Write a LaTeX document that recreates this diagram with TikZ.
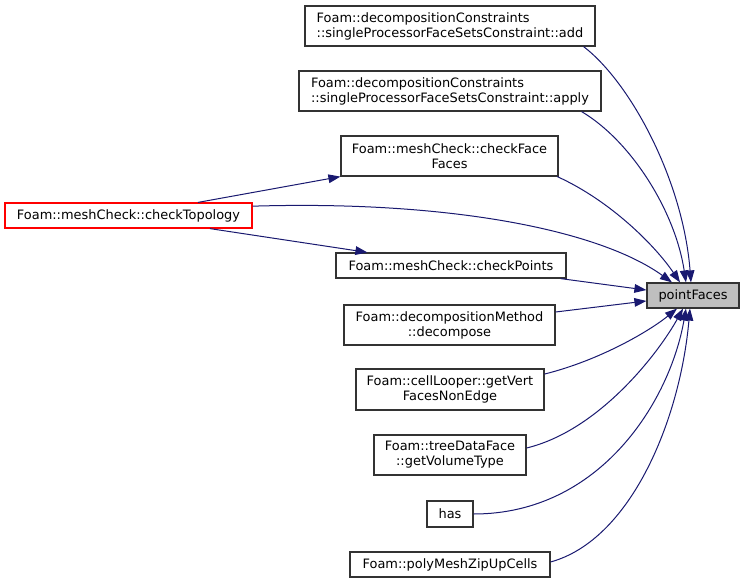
\documentclass[tikz,border=0pt]{standalone}
\usepackage{fontspec}
\setmainfont{DejaVu Sans}
\usetikzlibrary{arrows.meta}
\definecolor{edgeblue}{HTML}{191970}
\definecolor{boxgray}{HTML}{BFBFBF}
\tikzset{
  box/.style={draw=black!80, line width=0.9pt, inner sep=0pt, fill=white,
    font=\fontsize{9.7pt}{11.25pt}\selectfont, align=center},
  boxl/.style={box, align=left},
  edge/.style={draw=edgeblue, line width=0.75pt, -{Triangle[length=9pt,width=6.5pt]}, fill=none}
}
\begin{document}
\begin{tikzpicture}[x=0.75pt, y=-0.75pt]
\useasboundingbox (0,0) rectangle (744,583);
\fill[white] (0,0) rectangle (744,583);
% nodes
\node[boxl, minimum width=217.5pt, minimum height=30pt] (add) at (450,26)
  {Foam::decompositionConstraints\\::singleProcessorFaceSetsConstraint::add};
\node[boxl, minimum width=226.5pt, minimum height=30pt] (apply) at (450,91)
  {Foam::decompositionConstraints\\::singleProcessorFaceSetsConstraint::apply};
\node[box, minimum width=162.75pt, minimum height=30pt] (cff) at (449.5,156)
  {Foam::meshCheck::checkFace\\Faces};
\node[box, draw=red, minimum width=185.25pt, minimum height=18.75pt] (ct) at (128.5,215.5)
  {Foam::meshCheck::checkTopology};
\node[box, minimum width=172.5pt, minimum height=18.75pt] (cp) at (451,265.5)
  {Foam::meshCheck::checkPoints};
\node[box, fill=boxgray, draw=black!80, minimum width=69pt, minimum height=18.75pt] (pf) at (693,295.5)
  {pointFaces};
\node[box, minimum width=158.25pt, minimum height=30pt] (dec) at (449.5,325)
  {Foam::decompositionMethod\\::decompose};
\node[box, minimum width=141pt, minimum height=30.75pt] (gv) at (450,389.5)
  {Foam::cellLooper::getVert\\FacesNonEdge};
\node[box, minimum width=114pt, minimum height=30pt] (vt) at (450,455)
  {Foam::treeDataFace\\::getVolumeType};
\node[box, minimum width=34.5pt, minimum height=19.5pt] (has) at (450,514)
  {has};
\node[box, minimum width=150pt, minimum height=18.75pt] (pm) at (450,564.5)
  {Foam::polyMeshZipUpCells};
% edges
\draw[edge] ([xshift=-9pt]add.south east) .. controls +(47,36) and +(-8,-102) .. ([xshift=-1.5pt]pf.north);
\draw[edge] ([xshift=-15pt]apply.south east) .. controls +(49,29) and +(-11,-72) .. ([xshift=-5.25pt]pf.north);
\draw[edge] ([xshift=-1pt]cff.south east) .. controls +(53,24) and +(-25,-37) .. ([xshift=-9.75pt]pf.north);
\draw[edge] ([yshift=7pt]ct.east) .. controls +(198,-6) and +(-72,-52) .. ([xshift=-15.75pt]pf.north);
\draw[edge] ([xshift=-4.5pt]cp.south east) -- ([yshift=4.1pt]pf.west);
\draw[edge] ([yshift=9.75pt]dec.east) -- ([yshift=-4.1pt]pf.west);
\draw[edge] ([yshift=11.6pt]gv.east) .. controls +(56,-14) and +(-27,22) .. ([xshift=-12pt]pf.south);
\draw[edge] ([yshift=5.25pt]vt.east) .. controls +(74,-18) and +(-23,42) .. ([xshift=-7.5pt]pf.south);
\draw[edge] (has.east) .. controls +(127,0) and +(-16,92) .. ([xshift=-5.25pt]pf.south);
\draw[edge] ([yshift=1.9pt]pm.east) .. controls +(80,-22) and +(-10,112) .. ([xshift=-2.25pt]pf.south);
\draw[edge] ([xshift=52.1pt]ct.north) -- (cff.south west);
\draw[edge] ([xshift=61.1pt]ct.south) -- ([xshift=24pt]cp.north west);
\end{tikzpicture}
\end{document}
